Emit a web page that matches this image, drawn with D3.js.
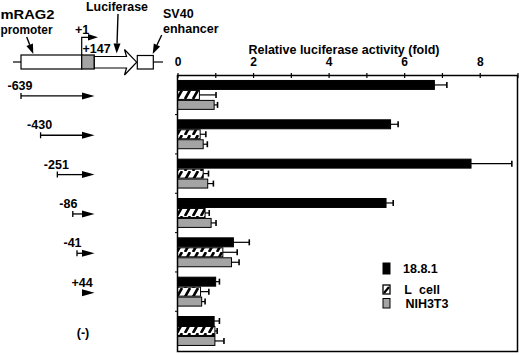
<!DOCTYPE html>
<html>
<head>
<meta charset="utf-8">
<script src="https://cdn.jsdelivr.net/npm/d3@7"></script>
<style>
  body { margin: 0; background: #fff; }
  svg { display: block; font-family: "Liberation Sans", Arial, sans-serif; font-weight: bold; }
</style>
</head>
<body>
<svg id="chart" width="520" height="355"></svg>
<script>
// constructs (5' end of promoter fragment), top to bottom
let constructs = ['-639', '-430', '-251', '-86', '-41', '+44', '(-)']
let starts = [-639, -430, -251, -86, -41, 44, null]
let series = ['18.8.1', 'L cell', 'NIH3T3']

// relative luciferase activity (fold) and error (upper bar length)
let act18 = [6.80, 5.64, 7.77, 5.52, 1.48, 1.01, 0.97]
let err18 = [0.33, 0.20, 1.08, 0.19, 0.42, 0.10, 0.14]
let actL = [0.58, 0.60, 0.68, 0.73, 1.20, 0.61, 0.99]
let errL = [0.44, 0.15, 0.14, 0.11, 0.38, 0.22, 0.06]
let actN = [0.97, 0.68, 0.80, 0.89, 1.43, 0.64, 0.99]
let errN = [0.09, 0.11, 0.15, 0.13, 0.20, 0.09, 0.24]

let xTicks = [0, 1, 2, 3, 4, 5, 6, 7, 8, 9]

let values = [act18, actL, actN]
let errors = [err18, errL, errN]

let $svg = d3.select('#chart')
let grey = '#a4a4a4'

let plot = {left: 177.5, right: 517.5, top: 75.5, bottom: 351.5}

let x = d3.scaleLinear().domain([0, 9]).range([plot.left, plot.right])
let y = d3.scaleBand().domain(constructs)
    .range([plot.top, plot.bottom])
    .paddingInner(0.265)
    .paddingOuter(0.14)
    .align(0.45)
let ySeries = d3.scaleBand().domain(series)
    .range([0, y.bandwidth()])
    .paddingInner(0.1)

// hatch pattern for L cell
let defs = $svg.append('defs')
let pat = defs.append('pattern')
    .attr('id', 'hatch')
    .attr('patternUnits', 'userSpaceOnUse')
    .attr('width', 8)
    .attr('height', 9)
pat.append('rect').attr('width', 8).attr('height', 9).attr('fill', '#fff')
pat.append('path')
    .attr('d', 'M1,9 L6,0')
    .attr('stroke', '#000')
    .attr('stroke-width', 2.6)

let fills = {'18.8.1': '#000', 'L cell': 'url(#hatch)', 'NIH3T3': grey}

// title + top axis
$svg.append('text')
    .attr('x', 344)
    .attr('y', 53.5)
    .attr('text-anchor', 'middle')
    .attr('font-size', 12.5)
    .text('Relative luciferase activity (fold)')

let axis = d3.axisTop(x)
    .tickValues(xTicks)
    .tickSizeInner(5)
    .tickSizeOuter(0)
    .tickPadding(4.5)
    .tickFormat(d => d % 2 === 0 ? d : '')

let $axis = $svg.append('g')
    .attr('transform', 'translate(0,' + plot.top + ')')
    .call(axis)
$axis.select('.domain').remove()
$axis.selectAll('.tick line').attr('transform', 'translate(0,2.5)').attr('stroke-width', 1.2)
$axis.selectAll('.tick text')
    .attr('font-size', 12)
    .attr('font-family', '"Liberation Sans", Arial, sans-serif')
    .attr('font-weight', 'bold')
    .attr('fill', '#000')

// bars
let rows = []
constructs.forEach((c, gi) => {
    series.forEach((s, si) => {
        rows.push({c: c, s: s, v: values[si][gi], e: errors[si][gi]})
    })
})

let $bars = $svg.append('g')
$bars.selectAll('rect.bar').data(rows).enter().append('rect')
    .attr('class', 'bar')
    .attr('x', x(0))
    .attr('y', d => y(d.c) + ySeries(d.s))
    .attr('width', d => x(d.v) - x(0))
    .attr('height', ySeries.bandwidth())
    .attr('fill', d => fills[d.s])
    .attr('stroke', '#000')
    .attr('stroke-width', 1)

// error bars
let $err = $svg.append('g').attr('stroke', '#000').attr('stroke-width', 1.2)
rows.forEach(d => {
    let cy = y(d.c) + ySeries(d.s) + ySeries.bandwidth() / 2
    $err.append('line')
        .attr('x1', x(d.v)).attr('x2', x(d.v + d.e))
        .attr('y1', cy).attr('y2', cy)
    $err.append('line')
        .attr('x1', x(d.v + d.e)).attr('x2', x(d.v + d.e))
        .attr('y1', cy - 3).attr('y2', cy + 3)
        .attr('stroke-width', 1.6)
})

// frame
$svg.append('rect')
    .attr('x', plot.left).attr('y', plot.top)
    .attr('width', plot.right - plot.left)
    .attr('height', plot.bottom - plot.top)
    .attr('fill', 'none')
    .attr('stroke', '#000')
    .attr('stroke-width', 1.5)

// small ticks on the left edge between groups
constructs.slice(1).forEach(c => {
    let ty = y(c) - y.step() * y.paddingInner() / 2
    $svg.append('line')
        .attr('x1', plot.left - 2.5).attr('x2', plot.left)
        .attr('y1', ty).attr('y2', ty)
        .attr('stroke', '#000').attr('stroke-width', 1)
})

// legend
let legend = {x: 383, y: 263}
let legendRows = [
    {s: '18.8.1', y: 263, h: 11, ty: 273},
    {s: 'L cell', y: 285, h: 9, ty: 294},
    {s: 'NIH3T3', y: 298.5, h: 9.5, ty: 307.5},
]
let $leg = $svg.append('g')
legendRows.forEach((r, i) => {
    if (r.s === 'L cell') {
        $leg.append('rect').attr('x', legend.x).attr('y', r.y)
            .attr('width', 7).attr('height', r.h)
            .attr('fill', '#fff').attr('stroke', '#000').attr('stroke-width', 1.3)
        $leg.append('path')
            .attr('d', 'M' + (legend.x + 1) + ',' + (r.y + r.h - 1) + ' L' + (legend.x + 6) + ',' + (r.y + 2))
            .attr('stroke', '#000').attr('stroke-width', 2.2)
    } else {
        $leg.append('rect').attr('x', legend.x).attr('y', r.y)
            .attr('width', 7).attr('height', r.h)
            .attr('fill', fills[r.s]).attr('stroke', '#000').attr('stroke-width', 1)
    }
    $leg.append('text')
        .attr('x', legend.x + 20 + i * 1.2)
        .attr('y', r.ty)
        .attr('font-size', 12.5)
        .attr('word-spacing', r.s === 'L cell' ? 4 : 0)
        .text(r.s)
})

// construct arrows on the left
let xProm = d3.scaleLinear().domain([-639, -41]).range([21, 77])
let headStart = 82, headEnd = 94.5
let $con = $svg.append('g')
constructs.forEach((c, i) => {
    let ay = y(c) + y.bandwidth() / 2 + 1
    let st = starts[i]
    if (st === null) {
        $con.append('text')
            .attr('x', 83).attr('y', ay + 5)
            .attr('text-anchor', 'middle')
            .attr('font-size', 12.5)
            .text(c)
        return
    }
    let sx = xProm(st)
    if (sx < headStart) {
        $con.append('line')
            .attr('x1', sx).attr('x2', headStart)
            .attr('y1', ay).attr('y2', ay)
            .attr('stroke', '#000').attr('stroke-width', 1.3)
        $con.append('line')
            .attr('x1', sx).attr('x2', sx)
            .attr('y1', ay - 3).attr('y2', ay + 3)
            .attr('stroke', '#000').attr('stroke-width', 1.3)
    }
    $con.append('path')
        .attr('d', 'M' + headStart + ',' + (ay - 3.5) + ' L' + headEnd + ',' + ay + ' L' + headStart + ',' + (ay + 3.5) + 'Z')
        .attr('fill', '#000')
    $con.append('text')
        .attr('x', Math.min(sx, 85) - 13.5)
        .attr('y', ay - 6)
        .attr('font-size', 12.5)
        .text(c)
})

// schematic of the reporter construct
let $sch = $svg.append('g').attr('stroke', '#000').attr('stroke-width', 1.2)
$sch.append('line').attr('x1', 13).attr('x2', 21).attr('y1', 62).attr('y2', 62)
$sch.append('rect').attr('x', 21).attr('y', 55).attr('width', 60.7).attr('height', 14).attr('fill', '#fff')
$sch.append('rect').attr('x', 81.7).attr('y', 55).attr('width', 12.6).attr('height', 14).attr('fill', grey)
$sch.append('path')
    .attr('d', 'M94.3,56.5 L126.5,56.5 L124.5,49.5 L136.7,62.2 L124.5,75 L126.5,68 L94.3,68 Z')
    .attr('fill', '#fff')
$sch.append('rect').attr('x', 137.3).attr('y', 55.5).attr('width', 16).attr('height', 13.5).attr('fill', '#fff')
$sch.append('line').attr('x1', 153.3).attr('x2', 163).attr('y1', 62).attr('y2', 62)
// transcription start
$sch.append('path').attr('d', 'M81.7,55 L81.7,37.3 L89,37.3').attr('fill', 'none')
$sch.append('path').attr('d', 'M88,34 L98,37.3 L88,40.6 Z').attr('fill', '#000').attr('stroke', 'none')

// pointer arrows
let pointers = [
    [26.7, 37, 33.3, 54],
    [118, 14, 116.7, 53.5],
    [161.7, 35, 152.7, 54]
]
pointers.forEach(p => {
    let ang = Math.atan2(p[3] - p[1], p[2] - p[0])
    let len = 10, wid = 3.5
    let bx = p[2] - len * Math.cos(ang), by = p[3] - len * Math.sin(ang)
    $sch.append('line').attr('x1', p[0]).attr('y1', p[1]).attr('x2', bx).attr('y2', by).attr('stroke-width', 1.4)
    let nx = -Math.sin(ang) * wid, ny = Math.cos(ang) * wid
    $sch.append('path')
        .attr('d', 'M' + p[2] + ',' + p[3] + ' L' + (bx + nx) + ',' + (by + ny) + ' L' + (bx - nx) + ',' + (by - ny) + 'Z')
        .attr('fill', '#000').attr('stroke', 'none')
})

let labels = [
    {t: 'mRAG2', x: 0.5, y: 19, w: 54},
    {t: 'promoter', x: 0.5, y: 33.5, w: 52},
    {t: '+1', x: 75, y: 34},
    {t: '+147', x: 82.5, y: 53},
    {t: 'Luciferase', x: 86, y: 10.7, w: 62},
    {t: 'SV40', x: 163, y: 18},
    {t: 'enhancer', x: 163, y: 33},
]
$svg.append('g').selectAll('text').data(labels).enter().append('text')
    .attr('x', d => d.x).attr('y', d => d.y)
    .attr('font-size', 12.5)
    .attr('textLength', d => d.w || null)
    .attr('lengthAdjust', 'spacingAndGlyphs')
    .text(d => d.t)
</script>
</body>
</html>
